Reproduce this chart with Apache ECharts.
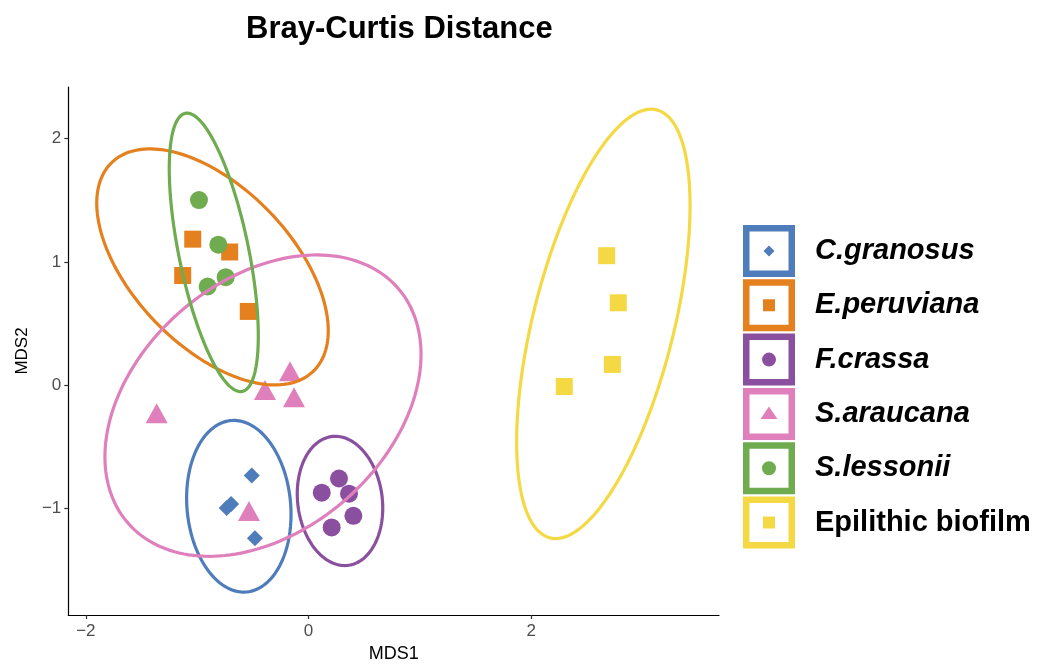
<!DOCTYPE html>
<html>
<head>
<meta charset="utf-8">
<script src="https://cdn.jsdelivr.net/npm/echarts@6/dist/echarts.min.js"></script>
<style>
  html, body { margin: 0; padding: 0; background: #fff; }
  #chart { width: 1050px; height: 668px; }
</style>
</head>
<body>
<div id="chart"></div>
<script>
// groups and colours
var groups = ['C.granosus', 'E.peruviana', 'F.crassa', 'S.araucana', 'S.lessonii', 'Epilithic biofilm'];
var colors = ['#4f7cba', '#e5801f', '#8a4f9e', '#df80bd', '#6fac4f', '#f5d944'];

// MDS1, MDS2 for each sample
var granosus = [[-0.510, -0.731], [-0.735, -0.995], [-0.695, -0.962], [-0.481, -1.240]];
var peruviana = [[-1.040, 1.185], [-0.708, 1.081], [-1.130, 0.890], [-0.541, 0.599]];
var crassa = [[0.274, -0.756], [0.119, -0.871], [0.364, -0.879], [0.403, -1.059], [0.208, -1.153]];
var araucana = [[-1.364, -0.226], [-0.391, -0.038], [-0.166, 0.113], [-0.130, -0.097], [-0.535, -1.019]];
var lessonii = [[-0.984, 1.502], [-0.810, 1.140], [-0.744, 0.877], [-0.906, 0.801]];
var biofilm = [[2.679, 1.051], [2.783, 0.669], [2.730, 0.169], [2.298, -0.010]];

// ellipses: centre x, centre y, half width, half height, correlation
var ellGranosus = [-0.626, -0.981, 0.469, 0.696, -0.095];
var ellPeruviana = [-0.8625, 0.960, 1.040, 0.957, -0.54];
var ellCrassa = [0.283, -0.938, 0.384, 0.524, -0.11];
var ellAraucana = [-0.409, -0.165, 1.420, 1.222, 0.34];
var ellLessonii = [-0.851, 1.078, 0.400, 1.129, -0.60];
var ellBiofilm = [2.649, 0.498, 0.779, 1.741, 0.55];

var xTicks = [-2, 0, 2];
var yTicks = [-1, 0, 1, 2];

var points = [granosus, peruviana, crassa, araucana, lessonii, biofilm];
var ellipses = [ellGranosus, ellPeruviana, ellCrassa, ellAraucana, ellLessonii, ellBiofilm];
var symbols = ['diamond', 'rect', 'circle', 'triangle', 'circle', 'rect'];
var symbolSizes = [16, 17, 18, [22, 20], 18, 17];

// legend icons: thick square frame with the group's marker inside
var ring = 'M0 0H52V52H0Z M6.5 6.5V45.5H45.5V6.5Z ';
var icons = [
  'path://' + ring + 'M26 20.5L31.5 26L26 31.5L20.5 26Z',
  'path://' + ring + 'M20 20H32V32H20Z',
  'path://' + ring + 'M19 26A7 7 0 1 0 33 26A7 7 0 1 0 19 26Z',
  'path://' + ring + 'M26 18.5L34.5 31L17.5 31Z',
  'path://' + ring + 'M19 26A7 7 0 1 0 33 26A7 7 0 1 0 19 26Z',
  'path://' + ring + 'M20 20H32V32H20Z'
];

var font = '"Liberation Sans", Arial, Helvetica, sans-serif';

function minus(v) {
  return v < 0 ? '\u2212' + Math.abs(v) : String(v);
}

function renderEllipse(params, api) {
  var cx = api.value(0), cy = api.value(1);
  var sx = api.value(2), sy = api.value(3), rho = api.value(4);
  var d = Math.acos(rho);
  var pts = [];
  for (var k = 0; k < 180; k++) {
    var t = 2 * Math.PI * k / 180;
    pts.push(api.coord([cx + sx * Math.cos(t), cy + sy * Math.cos(t - d)]));
  }
  return {
    type: 'polygon',
    shape: { points: pts },
    style: { fill: 'none', stroke: api.visual('color'), lineWidth: 3.2 }
  };
}

var series = [];
groups.forEach(function (g, i) {
  series.push({
    name: g,
    type: 'scatter',
    data: points[i],
    symbol: symbols[i],
    symbolSize: symbolSizes[i],
    itemStyle: { color: colors[i], opacity: 1 },
    z: 2
  });
});
groups.forEach(function (g, i) {
  series.push({
    name: g,
    type: 'custom',
    renderItem: renderEllipse,
    data: [ellipses[i]],
    encode: { x: 0, y: 1 },
    itemStyle: { color: colors[i] },
    silent: true,
    z: 3
  });
});

var myChart = echarts.init(document.getElementById('chart'));
var option = {
  backgroundColor: '#fff',
  animation: false,
  title: {
    text: 'Bray-Curtis Distance',
    left: 246,
    top: 14,
    padding: 0,
    textStyle: { fontFamily: font, fontSize: 31, fontWeight: 'bold', color: '#000' }
  },
  legend: {
    orient: 'vertical',
    left: 743,
    top: 225,
    padding: 0,
    itemWidth: 52,
    itemHeight: 52,
    itemGap: 2.3,
    selectedMode: false,
    data: groups.map(function (g, i) { return { name: g, icon: icons[i] }; }),
    formatter: function (name) {
      return name === 'Epilithic biofilm' ? '{n|' + name + '}' : '{i|' + name + '}';
    },
    textStyle: {
      rich: {
        i: { fontFamily: font, fontSize: 29, fontWeight: 'bold', fontStyle: 'italic', color: '#000', padding: [0, 0, 0, 15] },
        n: { fontFamily: font, fontSize: 29, fontWeight: 'bold', color: '#000', padding: [0, 0, 0, 15] }
      }
    }
  },
  grid: { left: 68.3, right: 331, top: 87, bottom: 49.7 },
  xAxis: {
    type: 'value',
    min: -2.158,
    max: 3.688,
    name: 'MDS1',
    nameLocation: 'middle',
    nameGap: 30,
    nameTextStyle: { fontFamily: font, fontSize: 18, color: '#000' },
    axisLine: { onZero: false, lineStyle: { color: '#000', width: 1.2 } },
    axisTick: { show: true, length: 4, customValues: xTicks, lineStyle: { color: '#333', width: 1.2 } },
    axisLabel: { customValues: xTicks, formatter: minus, margin: 8, fontFamily: font, fontSize: 17, color: '#4d4d4d' },
    splitLine: { show: false }
  },
  yAxis: {
    type: 'value',
    min: -1.863,
    max: 2.419,
    name: 'MDS2',
    nameLocation: 'middle',
    nameGap: 37,
    nameRotate: 90,
    nameTextStyle: { fontFamily: font, fontSize: 17, color: '#000' },
    axisLine: { onZero: false, lineStyle: { color: '#000', width: 1.2 } },
    axisTick: { show: true, length: 4, customValues: yTicks, lineStyle: { color: '#333', width: 1.2 } },
    axisLabel: { customValues: yTicks, formatter: minus, margin: 7, fontFamily: font, fontSize: 17, color: '#4d4d4d' },
    splitLine: { show: false }
  },
  series: series
};
myChart.setOption(option);
</script>
</body>
</html>
